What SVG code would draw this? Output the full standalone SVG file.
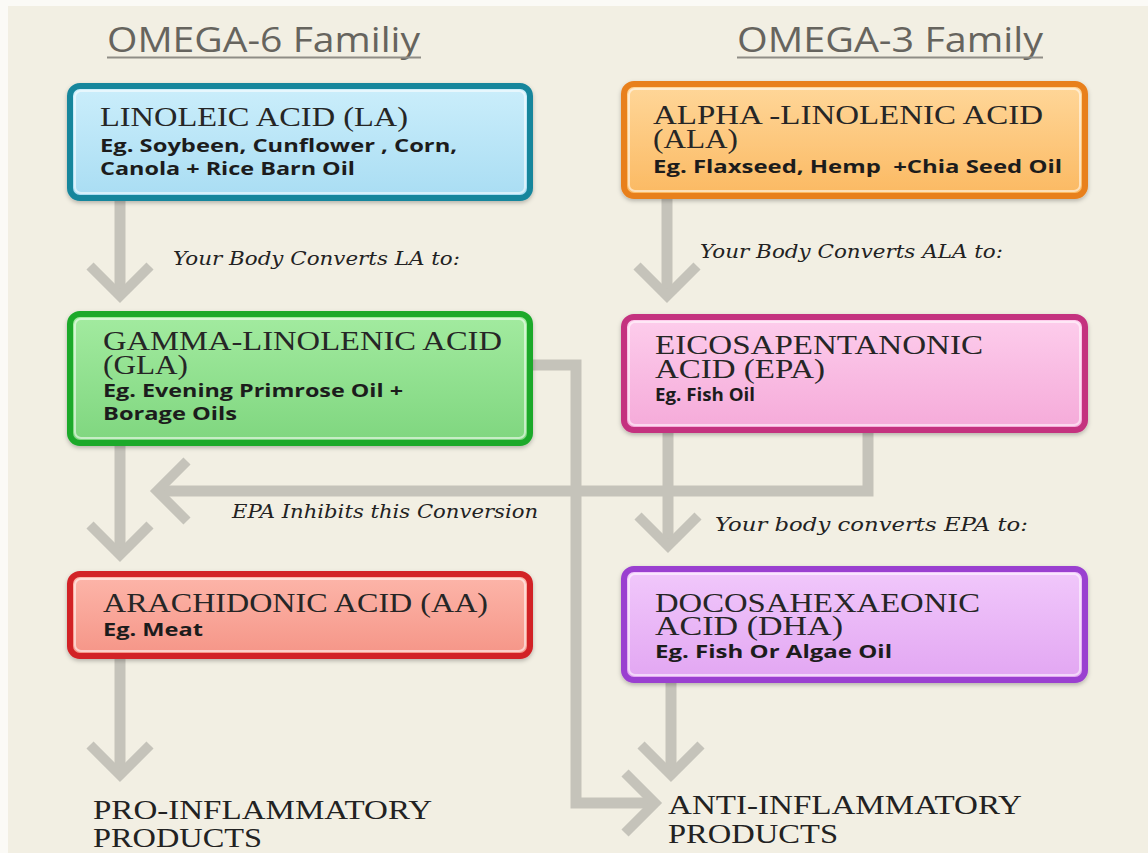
<svg xmlns="http://www.w3.org/2000/svg" width="1148" height="853" viewBox="0 0 1148 853">
  <defs>
    <style>
      .hdr { font-family: "Open Sans", "Liberation Sans", sans-serif; font-size: 35px; fill: #66645e; }
      .ttl { font-family: "Liberation Serif", "DejaVu Serif", serif; font-size: 27px; fill: #262626; }
      .sub { font-family: "Open Sans", "Liberation Sans", sans-serif; font-size: 18px; font-weight: bold; fill: #1c1c1c; }
      .lbl { font-family: "DejaVu Serif", "Liberation Serif", serif; font-style: italic; font-size: 19px; fill: #222; }
      .out { font-family: "Liberation Serif", "DejaVu Serif", serif; font-size: 27px; fill: #222; }
      .box { stroke-width: 6; }
      .hi { fill: none; stroke: #ffffff; stroke-opacity: 0.55; stroke-width: 2; }
      .conn { fill: none; stroke: #c5c3ba; stroke-width: 11; stroke-linejoin: miter; }
    </style>
    <marker id="chev" markerUnits="userSpaceOnUse" viewBox="-40 -40 50 80" markerWidth="50" markerHeight="80" refX="0" refY="0" orient="auto" overflow="visible">
      <path d="M-30,-30 L0,0 L-30,30" fill="none" stroke="#c5c3ba" stroke-width="10"/>
    </marker>
    <filter id="sh" x="-5%" y="-10%" width="110%" height="130%">
      <feDropShadow dx="0" dy="2" stdDeviation="2" flood-color="#000" flood-opacity="0.25"/>
    </filter>
    <linearGradient id="gBlue" x1="0" y1="0" x2="0" y2="1"><stop offset="0" stop-color="#cbeefb"/><stop offset="1" stop-color="#a9ddf3"/></linearGradient>
    <linearGradient id="gOrange" x1="0" y1="0" x2="0" y2="1"><stop offset="0" stop-color="#ffd79a"/><stop offset="1" stop-color="#fbb962"/></linearGradient>
    <linearGradient id="gGreen" x1="0" y1="0" x2="0" y2="1"><stop offset="0" stop-color="#a3eba0"/><stop offset="1" stop-color="#7fd67f"/></linearGradient>
    <linearGradient id="gPink" x1="0" y1="0" x2="0" y2="1"><stop offset="0" stop-color="#fdcdec"/><stop offset="1" stop-color="#f5aad9"/></linearGradient>
    <linearGradient id="gRed" x1="0" y1="0" x2="0" y2="1"><stop offset="0" stop-color="#fdb6aa"/><stop offset="1" stop-color="#f59587"/></linearGradient>
    <linearGradient id="gPurple" x1="0" y1="0" x2="0" y2="1"><stop offset="0" stop-color="#f1c8fb"/><stop offset="1" stop-color="#e2a6f2"/></linearGradient>
  </defs>

  <!-- background -->
  <rect x="0" y="0" width="1148" height="853" fill="#fbfaf6"/>
  <rect x="8" y="6" width="1140" height="847" fill="#f2efe3"/>

  <!-- family headings -->
  <g id="heading-omega6">
    <text class="hdr" x="107" y="52" textLength="313" lengthAdjust="spacingAndGlyphs">OMEGA-6 Familiy</text>
    <line x1="107" y1="57.5" x2="421" y2="57.5" stroke="#8f8d86" stroke-width="2"/>
  </g>
  <g id="heading-omega3">
    <text class="hdr" x="737" y="52" textLength="306" lengthAdjust="spacingAndGlyphs">OMEGA-3 Family</text>
    <line x1="737" y1="57.5" x2="1043" y2="57.5" stroke="#8f8d86" stroke-width="2"/>
  </g>

  <!-- connectors -->
  <g id="connectors">
    <path class="conn" d="M120,200 V296" marker-end="url(#chev)"/>
    <path class="conn" d="M667,198 V296" marker-end="url(#chev)"/>
    <path class="conn" d="M120,445 V555" marker-end="url(#chev)"/>
    <path class="conn" d="M668,432 V546" marker-end="url(#chev)"/>
    <path class="conn" d="M868,432 V491 H157" marker-end="url(#chev)"/>
    <path class="conn" d="M532,365 H576 V803 H655" marker-end="url(#chev)"/>
    <path class="conn" d="M671,682 V775" marker-end="url(#chev)"/>
    <path class="conn" d="M120,658 V775" marker-end="url(#chev)"/>
    <text class="lbl" x="173" y="265" textLength="287" lengthAdjust="spacingAndGlyphs">Your Body Converts LA to:</text>
    <text class="lbl" x="700" y="258" textLength="303" lengthAdjust="spacingAndGlyphs">Your Body Converts ALA to:</text>
    <text class="lbl" x="232" y="518" textLength="306" lengthAdjust="spacingAndGlyphs">EPA Inhibits this Conversion</text>
    <text class="lbl" x="715" y="531" textLength="313" lengthAdjust="spacingAndGlyphs">Your body converts EPA to:</text>
  </g>

  <!-- omega-6 chain -->
  <g id="node-la">
    <rect class="box" x="70" y="86" width="460" height="112" rx="10" fill="url(#gBlue)" stroke="#16869c" filter="url(#sh)"/>
    <rect class="hi" x="75" y="91" width="450" height="102" rx="6"/>
    <text class="ttl" x="100" y="126" textLength="308" lengthAdjust="spacingAndGlyphs">LINOLEIC ACID (LA)</text>
    <text class="sub" x="100" y="152" textLength="357" lengthAdjust="spacingAndGlyphs">Eg. Soybeen, Cunflower , Corn,</text>
    <text class="sub" x="100" y="175" textLength="255" lengthAdjust="spacingAndGlyphs">Canola + Rice Barn Oil</text>
  </g>

  <g id="node-gla">
    <rect class="box" x="70" y="314" width="460" height="129" rx="10" fill="url(#gGreen)" stroke="#1aa92b" filter="url(#sh)"/>
    <rect class="hi" x="75" y="319" width="450" height="119" rx="6"/>
    <text class="ttl" x="103" y="350" textLength="399" lengthAdjust="spacingAndGlyphs">GAMMA-LINOLENIC ACID</text>
    <text class="ttl" x="103" y="374" textLength="85" lengthAdjust="spacingAndGlyphs">(GLA)</text>
    <text class="sub" x="103" y="397" textLength="300" lengthAdjust="spacingAndGlyphs">Eg. Evening Primrose Oil +</text>
    <text class="sub" x="103" y="420" textLength="134" lengthAdjust="spacingAndGlyphs">Borage Oils</text>
  </g>

  <g id="node-aa">
    <rect class="box" x="70" y="574" width="460" height="82" rx="10" fill="url(#gRed)" stroke="#d22028" filter="url(#sh)"/>
    <rect class="hi" x="75" y="579" width="450" height="72" rx="6"/>
    <text class="ttl" x="103" y="612" textLength="385" lengthAdjust="spacingAndGlyphs">ARACHIDONIC ACID (AA)</text>
    <text class="sub" x="103" y="636" textLength="100" lengthAdjust="spacingAndGlyphs">Eg. Meat</text>
  </g>

  <!-- omega-3 chain -->
  <g id="node-ala">
    <rect class="box" x="624" y="84" width="461" height="112" rx="10" fill="url(#gOrange)" stroke="#e8801f" filter="url(#sh)"/>
    <rect class="hi" x="629" y="89" width="451" height="102" rx="6"/>
    <text class="ttl" x="653" y="124" textLength="390" lengthAdjust="spacingAndGlyphs">ALPHA -LINOLENIC ACID</text>
    <text class="ttl" x="653" y="148" textLength="85" lengthAdjust="spacingAndGlyphs">(ALA)</text>
    <text class="sub" x="653" y="173" textLength="409" lengthAdjust="spacingAndGlyphs">Eg. Flaxseed, Hemp&#160; +Chia Seed Oil</text>
  </g>

  <g id="node-epa">
    <rect class="box" x="624" y="317" width="461" height="113" rx="10" fill="url(#gPink)" stroke="#c4307f" filter="url(#sh)"/>
    <rect class="hi" x="629" y="322" width="451" height="103" rx="6"/>
    <text class="ttl" x="655" y="354" textLength="328" lengthAdjust="spacingAndGlyphs">EICOSAPENTANONIC</text>
    <text class="ttl" x="655" y="378" textLength="170" lengthAdjust="spacingAndGlyphs">ACID (EPA)</text>
    <text class="sub" x="655" y="401" textLength="100" lengthAdjust="spacingAndGlyphs">Eg. Fish Oil</text>
  </g>

  <g id="node-dha">
    <rect class="box" x="624" y="569" width="461" height="111" rx="10" fill="url(#gPurple)" stroke="#9a3fd0" filter="url(#sh)"/>
    <rect class="hi" x="629" y="574" width="451" height="101" rx="6"/>
    <text class="ttl" x="655" y="612" textLength="325" lengthAdjust="spacingAndGlyphs">DOCOSAHEXAEONIC</text>
    <text class="ttl" x="655" y="635" textLength="188" lengthAdjust="spacingAndGlyphs">ACID (DHA)</text>
    <text class="sub" x="655" y="658" textLength="237" lengthAdjust="spacingAndGlyphs">Eg. Fish Or Algae Oil</text>
  </g>

  <!-- outcomes -->
  <g id="node-pro">
    <text class="out" x="93" y="819" textLength="339" lengthAdjust="spacingAndGlyphs">PRO-INFLAMMATORY</text>
    <text class="out" x="93" y="847" textLength="169" lengthAdjust="spacingAndGlyphs">PRODUCTS</text>
  </g>
  <g id="node-anti">
    <text class="out" x="668" y="814" textLength="354" lengthAdjust="spacingAndGlyphs">ANTI-INFLAMMATORY</text>
    <text class="out" x="668" y="843" textLength="170" lengthAdjust="spacingAndGlyphs">PRODUCTS</text>
  </g>
</svg>
